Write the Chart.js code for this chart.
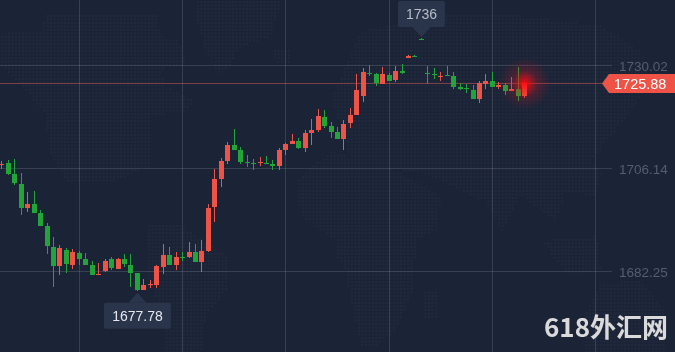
<!DOCTYPE html>
<html>
<head>
<meta charset="utf-8">
<style>
html, body { margin: 0; padding: 0; background: #1b2337; overflow: hidden; }
canvas { display: block; }
</style>
<script src="https://cdn.jsdelivr.net/npm/chart.js@4/dist/chart.umd.min.js"></script>
</head>
<body>
<canvas id="graph" width="675" height="352"></canvas>
<script>
const opens = [
    1707.02,1707.41,1704.86,1702.54,1696.98,1697.90,1695.82,1692.80,1687.93,1683.53,
    1687.24,1683.76,1686.54,1685.15,1683.76,1681.44,1682.37,1685.15,1682.83,1685.15,
    1683.76,1681.90,1677.96,1679.12,1679.12,1683.29,1686.08,1683.76,1685.61,1685.61,
    1686.77,1684.45,1687.00,1697.21,1703.70,1707.87,1711.58,1710.42,1707.64,1707.41,
    1707.41,1707.41,1707.18,1706.71,1710.42,1711.81,1712.51,1710.89,1714.37,1715.06,
    1718.08,1715.99,1714.60,1712.97,1716.69,1718.54,1722.95,1728.28,1728.05,1725.73,
    1727.82,1726.66,1728.74,1731.76,1732.22,1736.17,1728.28,1728.05,1727.35,1727.82,
    1727.58,1725.03,1724.80,1724.34,1722.25,1725.73,1726.43,1725.03,1725.50,1724.11,
    1724.57,1722.95
];
const highs = [
    1707.87,1708.11,1708.34,1705.09,1700.69,1700.92,1696.51,1693.50,1690.25,1688.39,
    1687.70,1687.47,1687.00,1686.54,1684.68,1684.22,1685.15,1685.61,1685.38,1686.31,
    1686.31,1681.90,1680.51,1680.28,1683.76,1688.62,1687.93,1686.77,1686.77,1689.09,
    1688.62,1689.55,1697.90,1706.02,1708.57,1712.28,1715.29,1711.12,1709.27,1708.34,
    1708.80,1709.03,1708.11,1710.89,1712.05,1714.13,1713.21,1715.06,1717.61,1719.93,
    1719.70,1716.92,1715.76,1717.38,1720.16,1728.05,1729.44,1730.14,1728.28,1729.67,
    1728.28,1729.90,1730.37,1732.45,1732.45,1736.40,1729.90,1729.44,1728.51,1729.90,
    1728.51,1725.96,1725.73,1725.50,1726.43,1728.05,1728.51,1726.19,1725.96,1727.35,
    1729.67,1726.19
];
const lows = [
    1706.02,1704.63,1702.39,1695.35,1696.05,1695.82,1692.80,1686.31,1678.66,1681.44,
    1681.90,1682.83,1683.76,1683.76,1681.44,1681.44,1682.13,1682.60,1682.83,1683.29,
    1678.66,1677.78,1677.96,1678.42,1678.42,1681.67,1683.76,1682.60,1684.68,1685.38,
    1684.45,1682.13,1686.77,1693.73,1701.85,1707.18,1710.42,1707.18,1706.48,1705.79,
    1706.71,1707.18,1705.79,1705.79,1709.27,1711.81,1710.66,1709.96,1711.58,1714.60,
    1715.53,1713.21,1712.97,1710.42,1715.53,1718.54,1721.56,1727.58,1725.27,1725.73,
    1726.43,1726.19,1728.05,1731.76,1731.99,1735.93,1725.73,1726.89,1726.43,1727.58,
    1724.57,1724.34,1723.64,1722.25,1721.32,1724.57,1725.03,1724.57,1723.18,1724.11,
    1721.79,1722.48
];
const closes = [
    1707.10,1704.86,1702.77,1696.98,1697.90,1695.82,1692.80,1688.16,1683.53,1687.70,
    1683.99,1686.77,1685.15,1683.76,1681.44,1681.67,1684.68,1683.06,1685.15,1683.99,
    1681.90,1677.96,1679.12,1679.35,1683.53,1686.08,1683.76,1685.61,1685.46,1686.77,
    1684.45,1687.00,1696.98,1703.70,1707.87,1711.58,1710.42,1707.64,1707.41,1707.18,
    1707.64,1707.18,1706.71,1710.42,1711.81,1712.51,1710.89,1714.37,1715.06,1718.31,
    1715.99,1714.60,1712.97,1716.45,1718.54,1724.34,1728.51,1728.05,1725.96,1728.05,
    1726.43,1728.74,1728.28,1732.22,1731.99,1735.93,1728.05,1727.82,1727.58,1727.58,
    1725.03,1724.57,1724.57,1722.25,1725.96,1726.43,1725.03,1725.50,1724.11,1724.57,
    1722.95,1725.88
];
const yTicks = [1730.02, 1706.14, 1682.25];
const xGrid = [12, 28, 44, 60, 76, 92];
const lastPrice = 1725.88;
const highText = "1736";
const lowText = "1677.78";
const watermark = "618外汇网";

const RED = "#ee5346";
const GREEN = "#22a538";
const FONT = '"Liberation Sans", Arial, sans-serif';

// rough outline of the continents behind the chart
const mapShapes = [
    [[0,33],[40,30],[45,12],[95,12],[155,15],[160,35],[178,40],[186,63],[160,68],[165,85],[195,100],[185,110],[150,115],[150,165],[110,182],[65,180],[48,150],[45,115],[25,90],[0,65]],
    [[195,0],[280,0],[270,35],[240,45],[225,70],[215,72],[205,50],[197,25]],
    [[270,48],[290,48],[290,63],[275,63]],
    [[145,225],[175,222],[225,255],[225,290],[205,315],[200,352],[165,352],[160,310],[145,270]],
    [[295,180],[330,150],[400,172],[440,195],[435,230],[415,240],[412,290],[395,330],[375,345],[360,345],[350,300],[345,270],[335,255],[335,240],[300,215]],
    [[422,289],[435,289],[435,319],[422,319]],
    [[360,30],[440,15],[520,15],[600,25],[640,50],[650,80],[630,110],[610,135],[590,160],[600,172],[592,195],[565,190],[555,220],[540,210],[520,195],[500,232],[485,200],[470,195],[440,180],[420,172],[350,160],[340,125],[330,100]],
    [[540,240],[595,235],[600,270],[565,272]],
    [[600,282],[640,280],[665,310],[665,352],[585,352],[585,310]]
];

const candleColors = closes.map((c, i) => c >= opens[i] ? RED : GREEN);
const idx = opens.map((_, i) => i);

const data = {
    datasets: [
        {
            label: "body",
            data: idx.map(i => ({ x: i, y: [opens[i], closes[i]] })),
            backgroundColor: candleColors,
            barThickness: 5,
            grouped: false,
            inflateAmount: 0,
            order: 1
        },
        {
            label: "wick",
            data: idx.map(i => ({ x: i, y: [lows[i], highs[i]] })),
            backgroundColor: candleColors,
            barThickness: 1,
            grouped: false,
            inflateAmount: 0,
            order: 2
        }
    ]
};

const dotBackground = {
    id: "dotBackground",
    beforeDraw(chart) {
        const ctx = chart.ctx;
        ctx.save();
        ctx.fillStyle = "#1b2337";
        ctx.fillRect(0, 0, chart.width, chart.height);
        ctx.fillStyle = "rgba(255,255,255,0.03)";
        const paths = mapShapes.map(s => {
            const p = new Path2D();
            s.forEach(pt => p.lineTo(pt[0], pt[1]));
            p.closePath();
            return p;
        });
        for(let y = 1; y < chart.height; y += 3.5){
            for(let x = 1; x < chart.width; x += 3.5){
                if(paths.some(p => ctx.isPointInPath(p, x, y)))ctx.fillRect(x, y, 2, 2);
            }
        }
        ctx.restore();
    }
};

// keep candles on whole pixels, thin bodies still get one pixel
const snapCandles = {
    id: "snapCandles",
    afterDatasetsUpdate(chart) {
        chart.data.datasets.forEach((_, d) => {
            chart.getDatasetMeta(d).data.forEach(bar => {
                bar.x = Math.floor(bar.x) + 0.5;
                bar.y = Math.round(bar.y);
                bar.base = Math.round(bar.base);
                if(bar.base === bar.y)bar.base = bar.y + 1;
            });
        });
    }
};

const priceLine = {
    id: "priceLine",
    beforeDatasetsDraw(chart) {
        const ctx = chart.ctx;
        const y = Math.floor(chart.scales.y.getPixelForValue(lastPrice)) + 0.5;
        ctx.save();
        ctx.strokeStyle = "rgba(238,100,90,0.45)";
        ctx.beginPath();
        ctx.moveTo(0, y);
        ctx.lineTo(604, y);
        ctx.stroke();
        ctx.restore();
    }
};

function drawCallout(ctx, x, tipY, below, text, color) {
    const w = text.length > 4 ? 67 : 47;
    const h = 26;
    const top = below ? tipY + 12 : tipY - 11 - h;
    ctx.fillStyle = "#2a344b";
    ctx.beginPath();
    ctx.roundRect(x - w / 2, top, w, h, 2);
    ctx.fill();
    ctx.beginPath();
    if(below){
        ctx.moveTo(x, tipY + 2);
        ctx.lineTo(x - 9, top);
        ctx.lineTo(x + 9, top);
    }else{
        ctx.moveTo(x, tipY - 1);
        ctx.lineTo(x - 9, top + h);
        ctx.lineTo(x + 9, top + h);
    }
    ctx.fill();
    ctx.fillStyle = color;
    ctx.font = "14px " + FONT;
    ctx.textAlign = "center";
    ctx.textBaseline = "middle";
    ctx.fillText(text, x, top + h / 2 + 1);
}

const overlays = {
    id: "overlays",
    afterDraw(chart) {
        const ctx = chart.ctx;
        const sx = chart.scales.x;
        const sy = chart.scales.y;
        const priceY = Math.floor(sy.getPixelForValue(lastPrice)) + 0.5;

        // glow on the running candle
        const gx = sx.getPixelForValue(opens.length - 1);
        const glow = ctx.createRadialGradient(gx, priceY, 0, gx, priceY, 26);
        glow.addColorStop(0, "rgba(255,10,15,0.95)");
        glow.addColorStop(0.15, "rgba(255,10,15,0.7)");
        glow.addColorStop(0.5, "rgba(235,20,30,0.22)");
        glow.addColorStop(1, "rgba(235,20,30,0)");
        ctx.fillStyle = glow;
        ctx.fillRect(gx - 26, priceY - 26, 52, 52);

        // last price tag
        ctx.fillStyle = RED;
        ctx.beginPath();
        ctx.moveTo(602, priceY);
        ctx.lineTo(609, priceY - 9.5);
        ctx.lineTo(675, priceY - 9.5);
        ctx.lineTo(675, priceY + 9.5);
        ctx.lineTo(609, priceY + 9.5);
        ctx.closePath();
        ctx.fill();
        ctx.fillStyle = "#ffffff";
        ctx.font = "14.5px " + FONT;
        ctx.textAlign = "left";
        ctx.textBaseline = "middle";
        ctx.fillText(lastPrice.toFixed(2), 614, priceY + 1);

        const top = highs.indexOf(Math.max(...highs));
        const bottom = lows.indexOf(Math.min(...lows));
        drawCallout(ctx, sx.getPixelForValue(top), sy.getPixelForValue(highs[top]), false, highText, "#b9bdc8");
        drawCallout(ctx, sx.getPixelForValue(bottom), sy.getPixelForValue(lows[bottom]), true, lowText, "#e6e8ec");

        ctx.fillStyle = "rgba(226,226,226,0.96)";
        ctx.font = 'bold 26px "Noto Sans CJK SC", sans-serif';
        ctx.textAlign = "right";
        ctx.textBaseline = "middle";
        ctx.fillText(watermark, 668, 327);
    }
};

const config = {
    type: "bar",
    data: data,
    plugins: [dotBackground, snapCandles, priceLine, overlays],
    options: {
        responsive: false,
        animation: false,
        events: [],
        layout: { padding: { left: 0, right: 0, top: 0, bottom: 0 } },
        plugins: {
            legend: { display: false },
            tooltip: { enabled: false }
        },
        scales: {
            x: {
                type: "linear",
                offset: false,
                min: -0.291,
                max: 94.52,
                afterBuildTicks: sc => { sc.ticks = xGrid.map(v => ({ value: v })); },
                afterFit: sc => { sc.height = 0; sc.paddingLeft = 0; sc.paddingRight = 0; },
                grid: { color: "rgba(255,255,255,0.13)", lineWidth: 1, drawTicks: false, offset: false },
                border: { display: false },
                ticks: { display: false }
            },
            y: {
                position: "right",
                min: 1663.58,
                max: 1745.21,
                afterBuildTicks: sc => { sc.ticks = yTicks.map(v => ({ value: v })); },
                afterFit: sc => { sc.width = 63; sc.paddingTop = 0; sc.paddingBottom = 0; },
                grid: { color: "rgba(255,255,255,0.13)", lineWidth: 1, drawTicks: false },
                border: { display: false },
                ticks: {
                    color: "#565d70",
                    padding: 7,
                    labelOffset: 2,
                    font: { family: FONT, size: 13.5 },
                    callback: v => v.toFixed(2)
                }
            }
        }
    }
};

const graph = new Chart(document.getElementById("graph"), config);
</script>
</body>
</html>
